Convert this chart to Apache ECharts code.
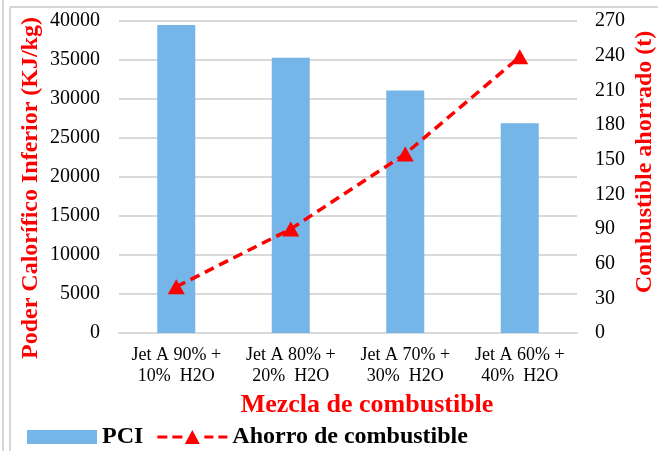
<!DOCTYPE html>
<html>
<head>
<meta charset="utf-8">
<script src="https://cdn.jsdelivr.net/npm/echarts@6/dist/echarts.min.js"></script>
<style>
html,body{margin:0;padding:0;background:#fff;}
#chart{width:658px;height:451px;}
</style>
</head>
<body>
<div id="chart"></div>
<script>
const categories = ['Jet A 90% +\n10%  H2O', 'Jet A 80% +\n20%  H2O', 'Jet A 70% +\n30%  H2O', 'Jet A 60% +\n40%  H2O'];
const pciValues = [39500, 35300, 31100, 26900];
const ahorroValues = [40, 90, 155, 239];
const leftTicks = {min: 0, max: 40000, interval: 5000};
const rightTicks = {min: 0, max: 270, interval: 30};

const FONT = '"Liberation Serif", "Times New Roman", serif';
const lineIcon = 'path://M0 5.5h10v3h-10z M15 5.5h10v3h-10z M27.5 14L35 0L42.5 14z M47 5.5h9v3h-9z M61 5.5h9v3h-9z';
const chart = echarts.init(document.getElementById('chart'));
chart.setOption({
  animation: false,
  backgroundColor: '#fff',
  grid: {left: 119, right: 81, top: 21, bottom: 118},
  legend: {
    left: 27, top: 425, padding: 0,
    itemWidth: 70, itemHeight: 14, itemGap: 14,
    textStyle: {fontFamily: FONT, fontSize: 24, fontWeight: 'bold', color: '#000'},
    data: [{name: 'PCI', icon: 'rect'}, {name: 'Ahorro de combustible', icon: lineIcon, itemStyle: {color: '#ff0000'}}]
  },
  xAxis: {
    type: 'category',
    data: categories,
    axisLine: {lineStyle: {color: '#d9d9d9', width: 2}},
    axisTick: {show: false},
    axisLabel: {fontFamily: FONT, fontSize: 18, color: '#000', margin: 12, lineHeight: 21, interval: 0}
  },
  yAxis: [{
    type: 'value', min: leftTicks.min, max: leftTicks.max, interval: leftTicks.interval,
    axisLine: {show: false}, axisTick: {show: false},
    splitLine: {lineStyle: {color: '#d9d9d9', width: 2}},
    axisLabel: {fontFamily: FONT, fontSize: 20, color: '#000', margin: 19, formatter: v => String(v)}
  }, {
    type: 'value', min: rightTicks.min, max: rightTicks.max, interval: rightTicks.interval,
    axisLine: {show: false}, axisTick: {show: false},
    splitLine: {show: false},
    axisLabel: {fontFamily: FONT, fontSize: 20, color: '#000', margin: 18, formatter: v => String(v)}
  }],
  series: [{
    name: 'PCI', type: 'bar', data: pciValues, barWidth: 38,
    itemStyle: {color: '#75b5e8'}
  }, {
    name: 'Ahorro de combustible', type: 'line', yAxisIndex: 1, data: ahorroValues,
    symbol: 'triangle', symbolSize: [17, 15],
    itemStyle: {color: '#ff0000'},
    lineStyle: {color: '#ff0000', width: 3.5, type: [10, 6]}
  }],
  graphic: [
    {type: 'line', shape: {x1: 3, y1: 0, x2: 3, y2: 451}, style: {stroke: '#d6d6d6', lineWidth: 2}},
    {type: 'line', shape: {x1: 10, y1: 7, x2: 10, y2: 451}, style: {stroke: '#d6d6d6', lineWidth: 2}},
    {type: 'line', shape: {x1: 10, y1: 7, x2: 658, y2: 7}, style: {stroke: '#d6d6d6', lineWidth: 2}},
    {type: 'text', x: 31, y: 188, rotation: Math.PI / 2,
     style: {text: 'Poder Calorífico Inferior (KJ/kg)', fontFamily: FONT, fontSize: 24, fontWeight: 'bold', fill: '#ff0000', align: 'center', verticalAlign: 'middle'}},
    {type: 'text', x: 645, y: 162, rotation: Math.PI / 2,
     style: {text: 'Combustible ahorrado (t)', fontFamily: FONT, fontSize: 24, fontWeight: 'bold', fill: '#ff0000', align: 'center', verticalAlign: 'middle'}},
    {type: 'text', x: 367, y: 405,
     style: {text: 'Mezcla de combustible', fontFamily: FONT, fontSize: 26, fontWeight: 'bold', fill: '#ff0000', align: 'center', verticalAlign: 'middle'}}
  ]
});
</script>
</body>
</html>
